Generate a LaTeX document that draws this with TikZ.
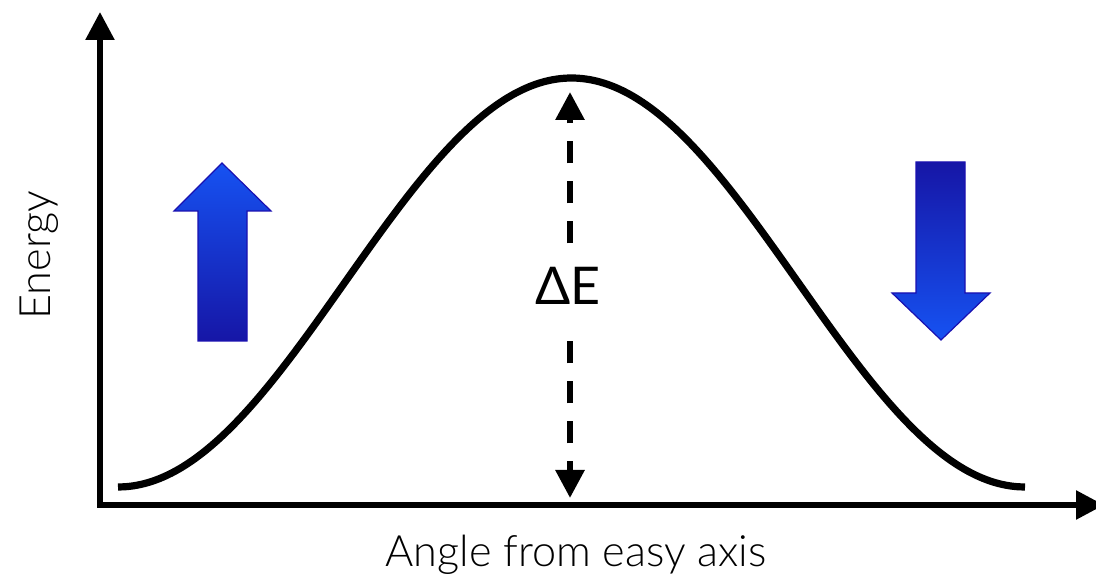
\documentclass[tikz,border=0pt]{standalone}
\usepackage{fontspec}
\setmainfont{Lato}[UprightFont={* Light}]
\newfontfamily\deltafont{Lato}
\usetikzlibrary{arrows.meta}
\definecolor{brightblue}{HTML}{1652F2}
\definecolor{darkblue}{HTML}{1616A6}
\definecolor{edgeblue}{HTML}{1A10B0}
\tikzset{
  axisline/.style={line width=2.8pt,-{Triangle[length=14pt,width=14pt]}},
  curveline/.style={line width=3.6pt},
  deltaline/.style={line width=3pt,dash pattern=on 11pt off 9pt,dash phase=6pt,
    {Triangle[length=14pt,width=14pt]}-{Triangle[length=14pt,width=14pt]}},
  bluearrow/.style={draw=edgeblue,line width=0.6pt},
  lbl/.style={font=\fontsize{21.6}{26}\selectfont,inner sep=0pt},
}
\begin{document}
\begin{tikzpicture}[x=0.5pt,y=-0.5pt]
\useasboundingbox (0,0) rectangle (1096,581);
% axes
\coordinate (origin) at (100,505);
\coordinate (ytip) at (100,12);
\coordinate (xtip) at (1104,505);
\draw[axisline] (origin) ++(0,2.8) -- (ytip);
\draw[axisline] (98,505) -- (xtip);
% curve
\draw[curveline,domain=118:1025,samples=120,smooth]
  plot (\x,{487-204.5*(1-cos(0.396913*(\x-118)))});
% delta E
\coordinate (dtop) at (570,92);
\coordinate (dbot) at (570,498);
\draw[deltaline] (dbot) -- (dtop);
\node[lbl,font=\deltafont\fontsize{26}{30}\selectfont,fill=white,inner xsep=2pt,inner ysep=10pt,anchor=base] (dE) at (568,305) {ΔE};
% blue arrows
\shade[bluearrow,top color=brightblue,bottom color=darkblue]
  (222,163) -- (271,211) -- (247,211) -- (247,341) -- (198,341) -- (198,211) -- (174,211) -- cycle;
\shade[bluearrow,top color=darkblue,bottom color=brightblue]
  (916,162) -- (965,162) -- (965,293) -- (990,293) -- (941,340) -- (892,293) -- (916,293) -- cycle;
% labels
\node[lbl,rotate=90,anchor=base] (ylabel) at (50,255) {Energy};
\node[lbl,anchor=base] (xlabel) at (576,567) {Angle from easy axis};
\end{tikzpicture}
\end{document}
